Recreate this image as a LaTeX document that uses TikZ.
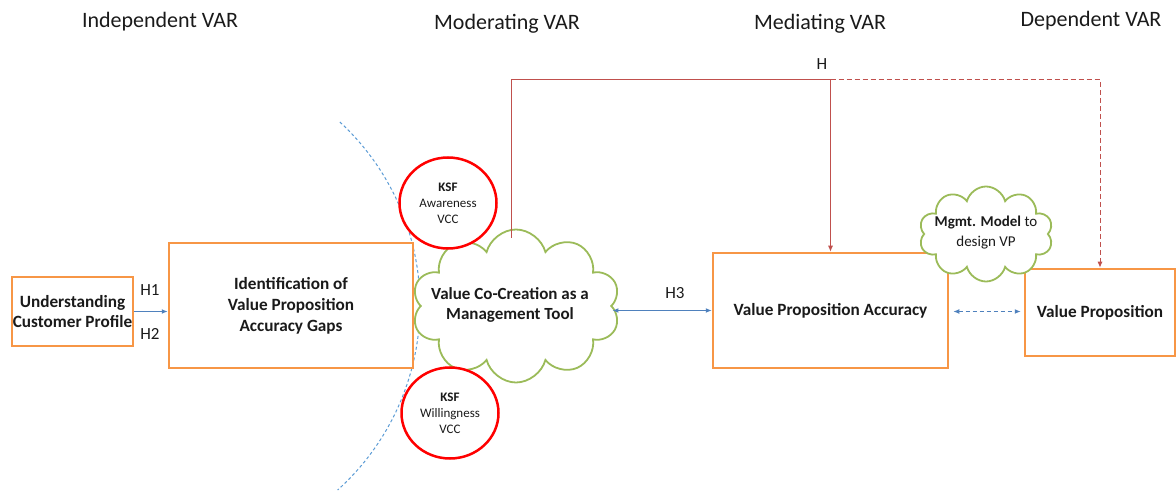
\documentclass[tikz,border=0pt]{standalone}
\usepackage{fontspec}
\setmainfont{Carlito}
\usetikzlibrary{shapes.geometric,shapes.symbols,arrows.meta,calc}
\definecolor{boxorange}{HTML}{F79646}
\definecolor{cloudgreen}{HTML}{9BBB59}
\definecolor{ksfred}{HTML}{FF0000}
\definecolor{linkred}{HTML}{C0504D}
\definecolor{linkblue}{HTML}{4F81BD}
\definecolor{arcblue}{HTML}{5B9BD5}
\definecolor{ink}{HTML}{1A1A1A}
\begin{document}
\begin{tikzpicture}[x=1pt,y=-1pt,
  every node/.style={text=ink},
  header/.style={font=\fontsize{22}{26}\selectfont},
  hlabel/.style={font=\fontsize{17}{20}\selectfont},
  varbox/.style={rectangle,draw=boxorange,line width=2.5pt,fill=white,
    font=\bfseries\fontsize{17.2}{21}\selectfont,align=center,inner sep=0pt},
  ksf/.style={ellipse,draw=ksfred,line width=2.5pt,fill=white,
    minimum width=97pt,minimum height=91pt,inner sep=0pt,align=center,
    font=\fontsize{13}{16}\selectfont},
  puff/.style={cloud,draw=cloudgreen,line width=1.8pt,fill=white,
    cloud ignores aspect,inner sep=0pt},
  cloudtext/.style={align=center,font=\fontsize{15}{20}\selectfont},
  tip/.style={-{Latex[length=6pt,width=5pt]}},
  bothtips/.style={{Latex[length=6pt,width=5pt]}-{Latex[length=6pt,width=5pt]}},
  bluelink/.style={draw=linkblue,line width=1.2pt},
  redlink/.style={draw=linkred,line width=1pt},
  arcline/.style={draw=arcblue,line width=1pt,dash pattern=on 3pt off 2.5pt}
]
\useasboundingbox (0,0) rectangle (1176,494);

% column headings
\node[header] (hind) at (160,22) {Independent VAR};
\node[header] (hmod) at (507,24) {Moderating VAR};
\node[header] (hmed) at (820,24) {Mediating VAR};
\node[header] (hdep) at (1091,21) {Dependent VAR};

% boundary of the moderating zone
\draw[arcline] (171,305) ++(47.3:249pt) arc[start angle=47.3, end angle=-48, radius=249pt];

% moderator cloud
\node[puff,cloud puffs=10,minimum width=208pt,minimum height=153pt] (vcc) at (516,306) {};
\node[cloudtext,font=\bfseries\fontsize{17}{20}\selectfont] (vcctext) at (510,305) {Value Co-Creation as a\\Management Tool};

% variable boxes
\node[varbox,minimum width=121pt,minimum height=69pt] (ucp) at (72.5,311.5) {Understanding\\[-1pt]Customer Profile};
\node[varbox,minimum width=244pt,minimum height=125pt] (idg) at (291,305.5) {Identification of\\Value Proposition\\Accuracy Gaps};
\node[varbox,minimum width=235pt,minimum height=115pt] (vpa) at (830.5,310.5) {Value Proposition Accuracy};
\node[varbox,minimum width=150pt,minimum height=87pt] (vp) at (1100,312.5) {Value Proposition};

% key success factors
\node[ksf] (ksfa) at (448,203) {\textbf{KSF}\\Awareness\\VCC};
\node[ksf] (ksfw) at (450,413) {\textbf{KSF}\\Willingness\\VCC};

% management model cloud
\node[puff,cloud puffs=10,minimum width=134pt,minimum height=95pt] (mm) at (986,234) {};
\node[cloudtext] (mmtext) at (986,233) {\textbf{Mgmt. Model} to\\design VP};

% hypotheses links
\draw[bluelink,tip] (ucp.east) -- (ucp.east -| idg.west);
\node[hlabel] (h1) at (150,290) {H1};
\node[hlabel] (h2) at (150,334) {H2};

\draw[bluelink,bothtips] (vcc.east |- vpa.west) -- (vpa.west);
\node[hlabel] (h3) at (675,293) {H3};

\draw[bluelink,bothtips,dash pattern=on 4pt off 3pt,shorten <=4pt,shorten >=3pt]
  ($(vpa.east)+(0,1)$) -- ($(vp.west)+(0,-1)$);

% overall hypothesis H
\coordinate (hsplit) at (830.5,80);
\draw[redlink] (511,238) |- (hsplit);
\draw[redlink,tip] (hsplit) -- (vpa.north);
\draw[redlink,tip,dash pattern=on 5pt off 3pt] (hsplit) -| (vp.north);
\node[hlabel] (h) at (822,64) {H};
\end{tikzpicture}
\end{document}
